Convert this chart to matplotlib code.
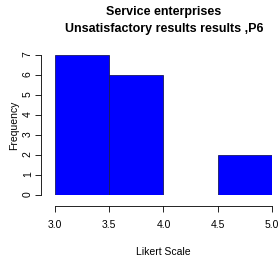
import matplotlib
matplotlib.use("Agg")
import matplotlib.pyplot as plt

plt.rcParams["font.family"] = ["Liberation Sans Narrow", "Liberation Sans", "DejaVu Sans"]

# histogram bins and counts
bin_edges = [3.0, 3.5, 4.0, 4.5, 5.0]
counts = [7, 6, 0, 2]
x_ticks = [3.0, 3.5, 4.0, 4.5, 5.0]
y_ticks = [0, 1, 2, 3, 4, 5, 6, 7]

fig = plt.figure(figsize=(2.78, 2.62), dpi=100)
ax = fig.add_axes([0.198, 0.256, 0.78, 0.534])

ax.hist(bin_edges[:-1], bins=bin_edges, weights=counts,
        color="#0000ff", edgecolor="#1a1a5a", linewidth=0.6)

ax.set_xlim(3.0, 5.0)
ax.set_ylim(0, 7)
ax.set_xticks(x_ticks)
ax.set_xticklabels([f"{v:.1f}" for v in x_ticks])
ax.set_yticks(y_ticks)
ax.tick_params(axis="y", labelrotation=90, labelsize=7.5, length=4, width=0.6, pad=2)
ax.tick_params(axis="x", labelsize=7.5, length=4, width=0.6, pad=6)
for lbl in ax.get_yticklabels():
    lbl.set_va("center")

for s in ["top", "right"]:
    ax.spines[s].set_visible(False)
ax.spines["left"].set_position(("outward", 10))
ax.spines["bottom"].set_position(("outward", 8))
ax.spines["left"].set_bounds(0, 7)
ax.spines["bottom"].set_bounds(3.0, 5.0)
ax.spines["left"].set_linewidth(0.6)
ax.spines["bottom"].set_linewidth(0.6)

ax.set_xlabel("Likert Scale", fontsize=7.5, labelpad=12)
ax.set_ylabel("Frequency", fontsize=7.5, labelpad=3)

fig.text(0.59, 0.955, "Service enterprises", ha="center", va="center",
         fontsize=9, fontweight="bold")
fig.text(0.59, 0.89, "Unsatisfactory results results ,P6", ha="center", va="center",
         fontsize=9, fontweight="bold")

fig.savefig("out.png", dpi=100, facecolor="white")
